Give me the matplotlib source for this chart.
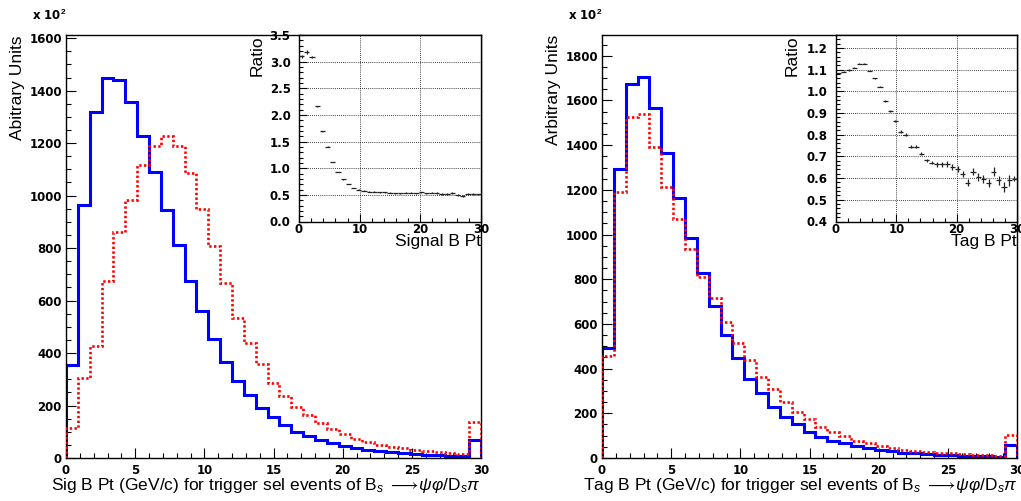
import numpy as np
import matplotlib
matplotlib.use("Agg")
import matplotlib.pyplot as plt
from matplotlib.ticker import MultipleLocator

plt.rcParams['font.family'] = ['Liberation Sans', 'DejaVu Sans']
plt.rcParams['mathtext.fontset'] = 'custom'
plt.rcParams['mathtext.rm'] = 'Liberation Sans'
plt.rcParams['mathtext.it'] = 'Liberation Sans:italic'
plt.rcParams['mathtext.bf'] = 'Liberation Sans:bold'

# ---------------- data (units of x10^2) ----------------
n_bins = 35
x_min, x_max = 0, 30

sig_blue = [355, 965, 1318, 1450, 1440, 1356, 1227, 1091, 947, 812, 674, 560, 455, 366,
            295, 240, 191, 156, 126, 100, 84, 69, 56, 46, 39, 30, 27, 23, 18, 14, 12, 10, 8, 7, 69]
sig_red = [113, 306, 427, 674, 862, 983, 1115, 1190, 1227, 1190, 1087, 949, 808, 665,
           532, 440, 357, 287, 237, 196, 164, 135, 109, 91, 71, 62, 50, 43, 37, 30, 27, 24, 20, 15, 136]

tag_blue = [491, 1293, 1673, 1703, 1565, 1366, 1165, 986, 826, 680, 550, 446, 353, 289,
            230, 185, 150, 118, 95, 78, 66, 54, 43, 36, 30, 24, 21, 18, 15, 12, 10, 9, 7, 6, 58]
tag_red = [456, 1191, 1527, 1539, 1393, 1214, 1068, 936, 811, 714, 610, 516, 438, 361,
           307, 249, 207, 173, 140, 118, 98, 78, 66, 54, 43, 36, 31, 27, 24, 21, 18, 15, 12, 9, 103]

sig_ratio = [3.10, 3.18, 3.09, 2.16, 1.69, 1.40, 1.12, 0.93, 0.79, 0.70, 0.63, 0.60, 0.58,
             0.56, 0.56, 0.55, 0.55, 0.54, 0.53, 0.53, 0.54, 0.54, 0.53, 0.55, 0.53, 0.54,
             0.53, 0.51, 0.52, 0.53, 0.50, 0.48, 0.52, 0.51, 0.51]
sig_ratio_err = [0.03, 0.03, 0.02, 0.01, 0.01, 0.01, 0.005, 0.005, 0.005, 0.005, 0.005, 0.005,
                 0.005, 0.005, 0.006, 0.006, 0.007, 0.008, 0.008, 0.009, 0.01, 0.01, 0.011,
                 0.012, 0.013, 0.014, 0.015, 0.016, 0.017, 0.018, 0.019, 0.02, 0.02, 0.02, 0.01]

tag_ratio = [1.083, 1.091, 1.098, 1.109, 1.128, 1.128, 1.095, 1.060, 1.022, 0.957, 0.911,
             0.865, 0.815, 0.800, 0.745, 0.745, 0.713, 0.682, 0.672, 0.663, 0.663, 0.665,
             0.650, 0.640, 0.618, 0.578, 0.630, 0.606, 0.596, 0.578, 0.630, 0.590, 0.560,
             0.590, 0.598]
tag_ratio_err = [0.004, 0.003, 0.003, 0.003, 0.003, 0.003, 0.003, 0.004, 0.004, 0.004, 0.005,
                 0.005, 0.006, 0.006, 0.007, 0.007, 0.008, 0.008, 0.009, 0.010, 0.011, 0.012,
                 0.013, 0.014, 0.015, 0.016, 0.017, 0.018, 0.019, 0.020, 0.021, 0.022, 0.024,
                 0.025, 0.010]

sig_xlabel = r"Sig B Pt (GeV/c) for trigger sel events of B$_s$ $\longrightarrow\!\psi\varphi$/D$_s\pi$"
tag_xlabel = r"Tag B Pt (GeV/c) for trigger sel events of B$_s$ $\longrightarrow\!\psi\varphi$/D$_s\pi$"
sig_ylabel = "Abitrary Units"
tag_ylabel = "Arbitrary Units"
sig_inset_xlabel = "Signal B Pt"
tag_inset_xlabel = "Tag B Pt"

edges = np.linspace(x_min, x_max, n_bins + 1)
centers = 0.5 * (edges[:-1] + edges[1:])
halfw = 0.5 * (edges[1] - edges[0])

W, H = 1021, 501
fig = plt.figure(figsize=(W / 100, H / 100), dpi=100)


def fx(px):
    return px / W


def fy(py):
    return 1 - py / H


TICKFONT = dict(family='DejaVu Sans', weight='bold', size=8.5)
LABELSIZE = 12.5


def style_axes(ax, major_y, minor_y, major_x, minor_x):
    ax.xaxis.set_major_locator(MultipleLocator(major_x))
    ax.xaxis.set_minor_locator(MultipleLocator(minor_x))
    ax.yaxis.set_major_locator(MultipleLocator(major_y))
    ax.yaxis.set_minor_locator(MultipleLocator(minor_y))
    ax.tick_params(which='both', direction='in', top=False, right=False, width=0.8)
    ax.tick_params(which='major', length=7)
    ax.tick_params(which='minor', length=3.5)
    for lab in ax.get_xticklabels() + ax.get_yticklabels():
        lab.set_fontfamily(TICKFONT['family'])
        lab.set_fontweight(TICKFONT['weight'])
        lab.set_fontsize(TICKFONT['size'])
    for s in ax.spines.values():
        s.set_linewidth(1.0)


def main_panel(left_px, right_px, blue, red, ymax, ylabel, xlabel, yminor, ymajor):
    top, bottom = 35, 458
    ax = fig.add_axes([fx(left_px), fy(bottom), fx(right_px - left_px), (bottom - top) / H])
    ax.stairs(red, edges, baseline=0, color='#ff0000', lw=1.9, linestyle=(0, (0.9, 0.9)), zorder=3)
    ax.stairs(blue, edges, baseline=0, color='#0000ff', lw=2.2, zorder=2)
    ax.set_xlim(x_min, x_max)
    ax.set_ylim(0, ymax)
    style_axes(ax, ymajor, yminor, 5, 1)
    ax.tick_params(axis='y', pad=3)
    ax.tick_params(axis='x', pad=4)
    ax.set_ylabel(ylabel, fontsize=LABELSIZE, loc='top')
    ax.yaxis.set_label_coords(-41 / (right_px - left_px), 1.0)
    ax.set_xlabel(xlabel, fontsize=LABELSIZE, loc='right')
    ax.xaxis.set_label_coords(1.0, -0.043)
    fig.text(fx(left_px - 34), fy(15), r"x 10$^{\mathbf{2}}$", fontsize=8.5, fontweight='bold',
             family='DejaVu Sans', ha='left', va='center')
    return ax


def inset_panel(left_px, right_px, ratio, err, ylo, yhi, ymajor, yminor, xlabel, ygrid, ylab_x):
    top, bottom = 35, 221.5
    ax = fig.add_axes([fx(left_px), fy(bottom), fx(right_px - left_px), (bottom - top) / H])
    ax.set_facecolor('white')
    ax.errorbar(centers, ratio, yerr=err, xerr=halfw, fmt='none', ecolor='#222222',
                elinewidth=0.9, capsize=0, zorder=3)
    ax.set_xlim(x_min, x_max)
    ax.set_ylim(ylo, yhi)
    style_axes(ax, ymajor, yminor, 10, 2)
    ax.tick_params(which='major', length=6)
    ax.tick_params(which='minor', length=3)
    ax.tick_params(axis='y', pad=6)
    ax.tick_params(axis='x', pad=1)
    for gx in (10, 20):
        ax.axvline(gx, color='black', lw=0.6, linestyle=(0, (1, 1.5)), zorder=1)
    for gy in ygrid:
        ax.axhline(gy, color='black', lw=0.6, linestyle=(0, (1, 1.5)), zorder=1)
    ax.set_ylabel("Ratio", fontsize=LABELSIZE, loc='top')
    ax.yaxis.set_label_coords(ylab_x, 1.0)
    ax.set_xlabel(xlabel, fontsize=LABELSIZE, loc='right')
    ax.xaxis.set_label_coords(1.0, -0.068)
    return ax


main_panel(66, 481, sig_blue, sig_red, 1612, sig_ylabel, sig_xlabel, 50, 200)
inset_panel(299, 481, sig_ratio, sig_ratio_err, 0, 3.5, 0.5, 0.1, sig_inset_xlabel,
            [0.5, 1.0, 1.5, 2.0, 2.5, 3.0, 3.5], -0.187)

main_panel(602, 1017, tag_blue, tag_red, 1893, tag_ylabel, tag_xlabel, 50, 200)
inset_panel(836, 1017, tag_ratio, tag_ratio_err, 0.4, 1.26, 0.1, 0.02, tag_inset_xlabel,
            [0.5, 0.6, 0.7, 0.8, 0.9, 1.0, 1.1, 1.2], -0.2)

fig.savefig("out.png", dpi=100, facecolor='white')
